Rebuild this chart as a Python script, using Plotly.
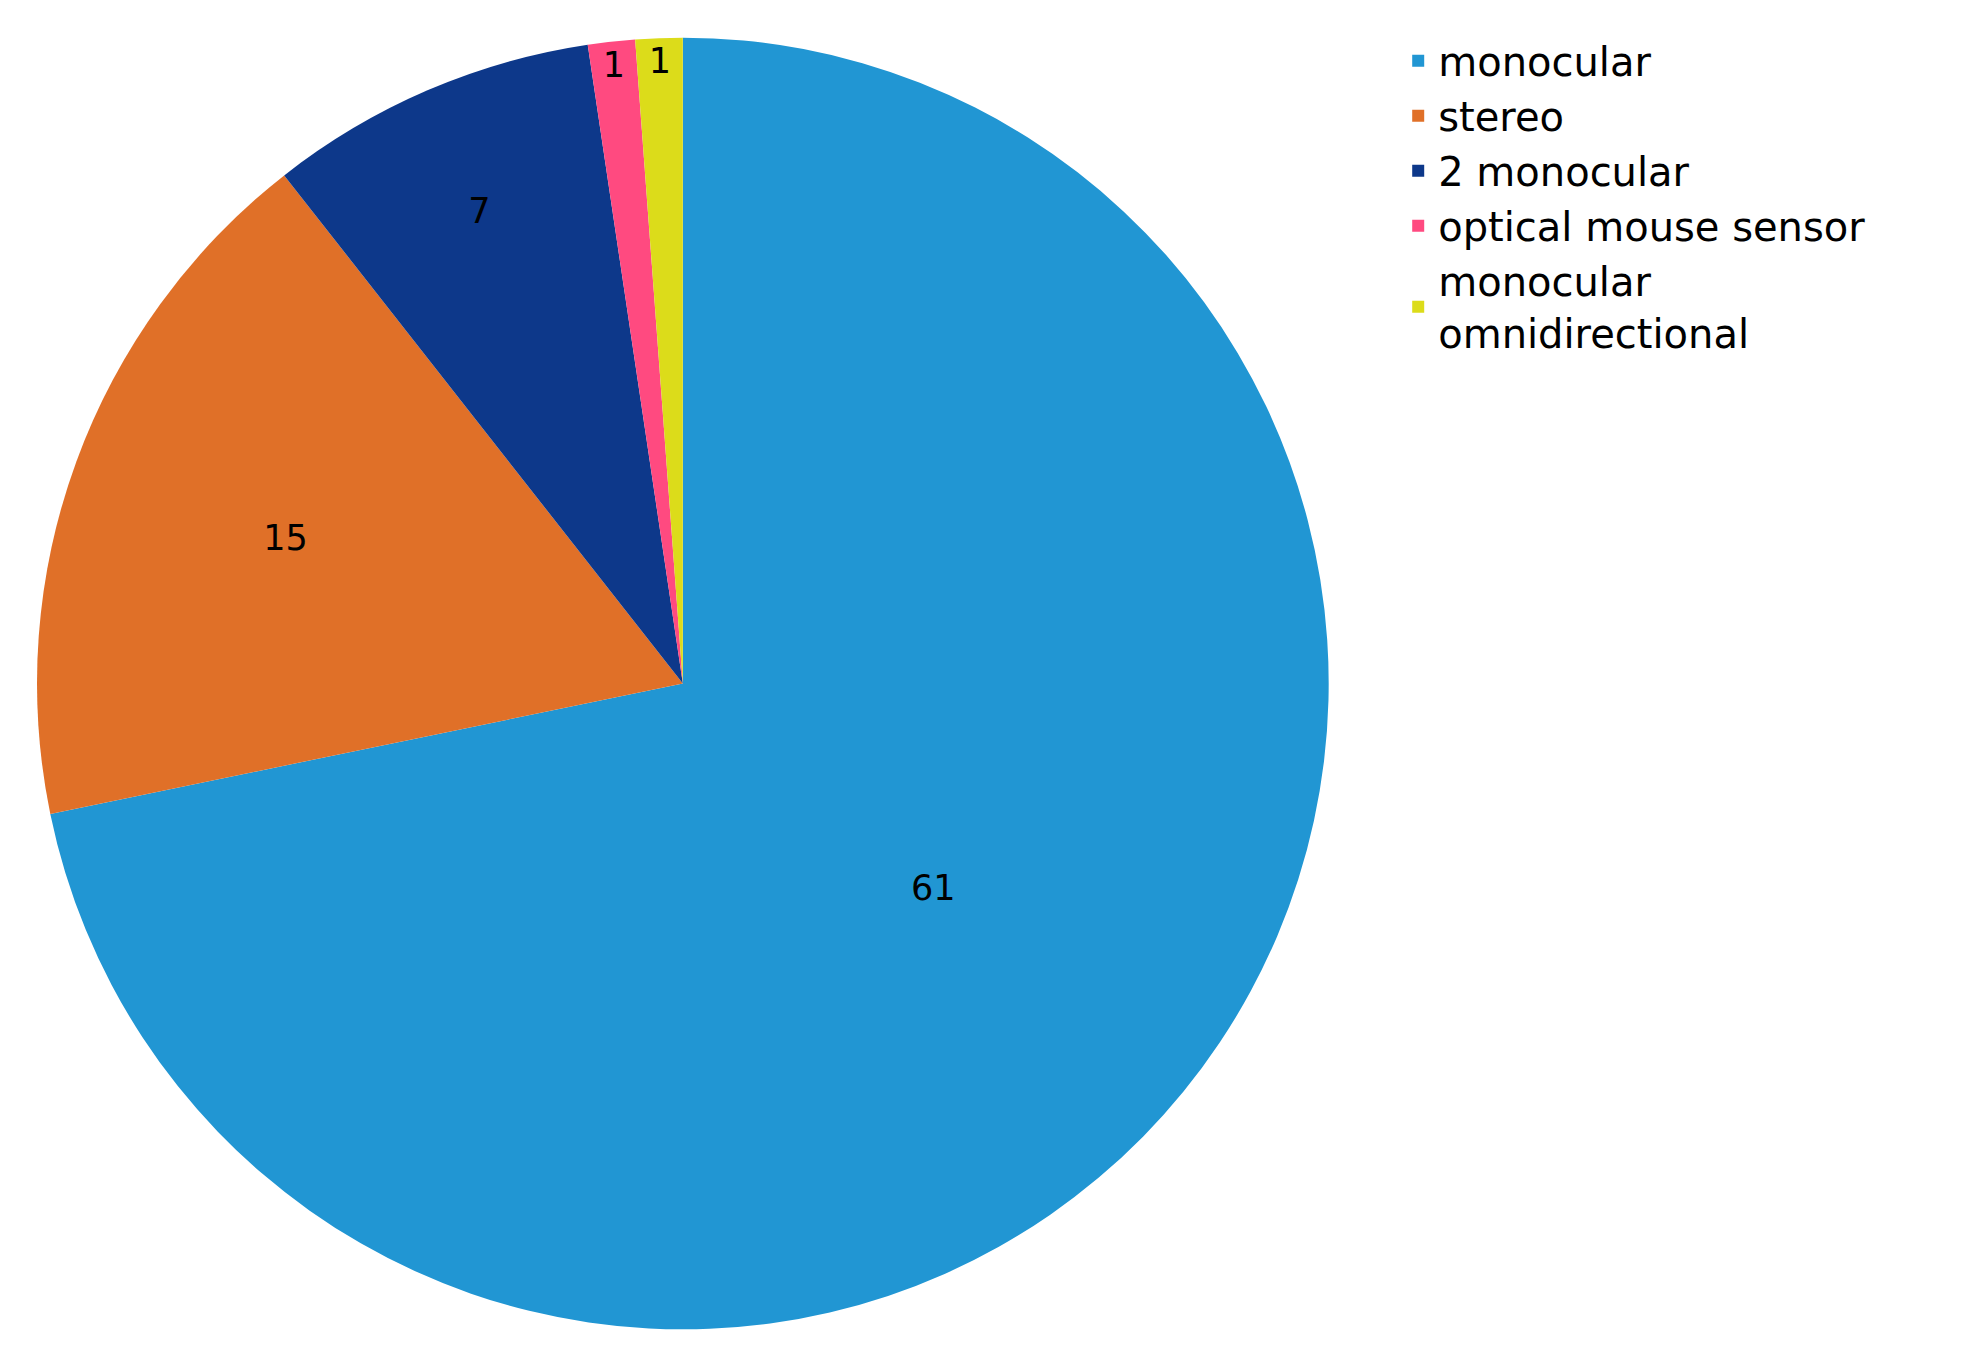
import plotly.graph_objects as go

labels = ["monocular", "stereo", "2 monocular", "optical mouse sensor", "monocular<br>omnidirectional"]
values = [61, 15, 7, 1, 1]
colors = ["#2196D3", "#E07028", "#0D388A", "#FF4A80", "#DCDC1A"]

fig = go.Figure(go.Pie(
    labels=labels, values=values, sort=False, direction="clockwise", rotation=0,
    marker=dict(colors=colors, line=dict(width=0)),
    textinfo="value", textposition="inside", insidetextorientation="horizontal",
    textfont=dict(size=40, color="black", family="DejaVu Sans"),
    domain=dict(x=[0.0146, 0.665], y=[0.019, 0.978]),
))
fig.update_layout(
    width=1986, height=1347, margin=dict(l=0, r=0, t=0, b=0),
    paper_bgcolor="white", plot_bgcolor="white",
    legend=dict(x=0.7, y=0.985, xanchor="left", yanchor="top",
                font=dict(size=40, family="DejaVu Sans", color="black"),
                tracegroupgap=10, itemsizing="constant"),
    uniformtext=dict(minsize=30, mode="show"),
)
fig.write_html("out.html")
